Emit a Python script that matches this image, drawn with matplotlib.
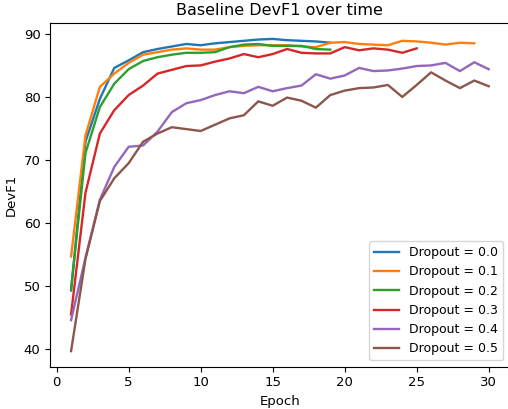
import matplotlib
matplotlib.use("Agg")
import matplotlib.pyplot as plt

plt.rcParams['font.size'] = 9.5

epochs = list(range(1, 31))

# dev F1 per epoch for each dropout rate
f1_d00 = [49.3, 72.9, 79.7, 84.6, 85.8, 87.1, 87.6, 88.0, 88.4, 88.2,
          88.5, 88.7, 88.9, 89.1, 89.2, 89.0, 88.9, 88.8, 88.6]
f1_d01 = [54.7, 73.9, 81.6, 83.7, 85.4, 86.7, 87.1, 87.5, 87.7, 87.5,
          87.5, 87.9, 88.1, 88.2, 88.2, 88.2, 88.0, 87.9, 88.6, 88.7,
          88.4, 88.3, 88.2, 88.9, 88.8, 88.6, 88.3, 88.6, 88.5]
f1_d02 = [49.5, 71.1, 78.4, 82.1, 84.4, 85.7, 86.3, 86.7, 87.0, 87.0,
          87.1, 87.9, 88.3, 88.4, 88.1, 88.1, 88.1, 87.6, 87.5]
f1_d03 = [45.5, 64.8, 74.2, 77.9, 80.3, 81.8, 83.7, 84.3, 84.9, 85.0,
          85.6, 86.1, 86.8, 86.3, 86.8, 87.6, 87.0, 86.9, 86.9, 87.9,
          87.4, 87.7, 87.5, 87.0, 87.7]
f1_d04 = [44.6, 54.5, 63.7, 68.9, 72.1, 72.3, 74.5, 77.6, 79.0, 79.5,
          80.3, 80.9, 80.6, 81.6, 80.9, 81.4, 81.8, 83.6, 82.9, 83.4,
          84.6, 84.1, 84.2, 84.5, 84.9, 85.0, 85.4, 84.1, 85.5, 84.4]
f1_d05 = [39.7, 54.3, 63.5, 67.1, 69.5, 72.9, 74.2, 75.2, 74.9, 74.6,
          75.6, 76.6, 77.1, 79.3, 78.6, 79.9, 79.4, 78.3, 80.3, 81.0,
          81.4, 81.5, 81.9, 80.0, 81.9, 83.9, 82.6, 81.4, 82.6, 81.7]

runs = [("0.0", f1_d00), ("0.1", f1_d01), ("0.2", f1_d02),
        ("0.3", f1_d03), ("0.4", f1_d04), ("0.5", f1_d05)]

fig = plt.figure(figsize=(5.08, 4.09), dpi=100)
ax = fig.add_axes([0.0988, 0.1034, 0.9043, 0.8396])

for rate, scores in runs:
    ax.plot(epochs[:len(scores)], scores, label="Dropout = %s" % rate,
            linewidth=1.7)

ax.set_title("Baseline DevF1 over time", fontsize=11.5)
ax.set_xlabel("Epoch")
ax.set_ylabel("DevF1")
ax.legend(loc="lower right", fontsize=9)

fig.savefig("out.png", dpi=100)
